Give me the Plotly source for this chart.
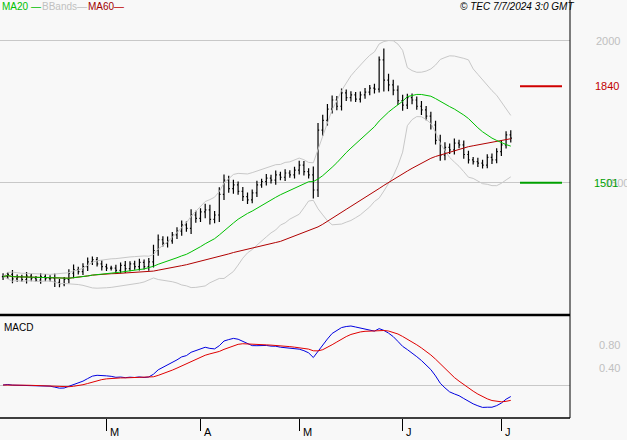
import plotly.graph_objects as go
import pandas as pd
import numpy as np

closes = [1170,1178,1162,1168,1160,1172,1165,1158,1170,1163,1165,1150,
          1145,1160,1182,1195,1188,1205,1222,1230,1215,1205,1200,
          1200,1192,1210,1198,1215,1205,1220,1205,1222,1262,
          1300,1288,1296,1317,1330,1352,1340,1387,1375,1398,1405,
          1372,1387,1460,1510,1480,1493,1470,1452,1440,1465,
          1493,1505,1517,1510,1528,1520,1535,1528,1545,1563,1540,1528,1475,
          1686,1720,1760,1792,1770,1817,1800,1810,1795,1810,1820,1834,1830,1933,
          1862,1845,1827,1790,1774,1800,1792,1770,1757,1735,1704,1650,
          1598,1625,1616,1640,1634,1600,1581,1575,1570,1563,1590,1581,1610,1634,1669,1658]
wicks = [12,8,15,10,9,14,11,7,13,9,10,16,12,9,14,18,10,12,15,11,9,13,10,
         8,12,10,15,9,11,13,10,14,20,18,12,15,10,14,16,12,20,15,13,22,
         18,14,25,20,15,18,12,16,14,12,15,10,14,12,16,11,13,10,12,15,14,12,30,
         25,20,18,16,14,15,12,13,10,12,14,11,15,12,40,
         22,18,16,20,14,15,12,18,14,16,15,20,
         18,14,16,12,15,13,10,14,12,11,14,12,15,13,16,12]
month_labels = ["M", "A", "M", "J", "J"]
month_idx = [22, 42, 63, 85, 106]

c = pd.Series(closes, dtype=float)
o = c.shift(1).fillna(c.iloc[0])
w = pd.Series(wicks, dtype=float)
hi = np.maximum(o, c) + w
lo = np.minimum(o, c) - w
x = list(range(len(c)))

ma20 = c.rolling(20, min_periods=1).mean()
sd20 = c.rolling(20, min_periods=1).std().fillna(0)
ma60 = c.rolling(60, min_periods=1).mean()
ub, lb = ma20 + 2 * sd20, ma20 - 2 * sd20
ema12 = c.ewm(span=12, adjust=False).mean()
ema26 = c.ewm(span=26, adjust=False).mean()
macd = (ema12 - ema26) / ema26 * 100
sig = macd.ewm(span=9, adjust=False).mean()

mtop = float(max(macd.max(), sig.max())) * (385 - 316) / (385 - 326)
unit = mtop / (385 - 316)
mbot = -unit * (418 - 385)

fig = go.Figure()
fig.add_trace(go.Scatter(x=x, y=ub, line=dict(color="#c8c8c8", width=1), xaxis="x", yaxis="y"))
fig.add_trace(go.Scatter(x=x, y=lb, line=dict(color="#c8c8c8", width=1), xaxis="x", yaxis="y"))
fig.add_trace(go.Scatter(x=x, y=ma60, line=dict(color="#b00000", width=1), xaxis="x", yaxis="y"))
fig.add_trace(go.Scatter(x=x, y=ma20, line=dict(color="#00c000", width=1), xaxis="x", yaxis="y"))
fig.add_trace(go.Ohlc(x=x, open=o, high=hi, low=lo, close=c, tickwidth=0.25,
                      increasing=dict(line=dict(color="black", width=1.2)),
                      decreasing=dict(line=dict(color="black", width=1.2)),
                      xaxis="x", yaxis="y"))
fig.add_trace(go.Scatter(x=x, y=macd, line=dict(color="#0000e0", width=1), xaxis="x2", yaxis="y2"))
fig.add_trace(go.Scatter(x=x, y=sig, line=dict(color="#e00000", width=1), xaxis="x2", yaxis="y2"))

xr = [-0.65, 120.6]
dom_x = [0, 570 / 627]
fig.update_layout(
    width=627, height=440, margin=dict(l=0, r=0, t=0, b=0),
    paper_bgcolor="#f8f8f8", plot_bgcolor="#f8f8f8", showlegend=False,
    font=dict(family="Liberation Sans, Arial", size=10, color="black"),
    xaxis=dict(domain=dom_x, range=xr, showticklabels=False, showgrid=False, zeroline=False,
               rangeslider=dict(visible=False), anchor="y", fixedrange=True),
    yaxis=dict(domain=[(440 - 315) / 440, 1], range=[1035, 2144], showticklabels=False,
               tickvals=[1500, 2000], gridcolor="#c8c8c8", gridwidth=1, zeroline=False),
    xaxis2=dict(domain=dom_x, range=xr, anchor="y2", showgrid=False, zeroline=False,
                tickvals=month_idx, ticktext=[""] * 5, ticks="outside", ticklen=12,
                tickcolor="black", showline=False),
    yaxis2=dict(domain=[22 / 440, 124 / 440], range=[mbot, mtop], showticklabels=False,
                tickvals=[0], gridcolor="#c8c8c8", zeroline=False),
)
line = dict(color="black", width=1)
fig.add_shape(type="line", xref="paper", yref="paper", x0=570 / 627, x1=570 / 627, y0=22 / 440, y1=1, line=line)
fig.add_shape(type="line", xref="paper", yref="paper", x0=0, x1=570 / 627, y0=125 / 440, y1=125 / 440, line=dict(color="black", width=2.5))
fig.add_shape(type="line", xref="paper", yref="paper", x0=0, x1=570 / 627, y0=22 / 440, y1=22 / 440, line=dict(color="black", width=1.5))
fig.add_shape(type="line", xref="paper", yref="y", x0=520 / 627, x1=562 / 627, y0=1840, y1=1840, line=dict(color="#d00000", width=2))
fig.add_shape(type="line", xref="paper", yref="y", x0=520 / 627, x1=562 / 627, y0=1501, y1=1501, line=dict(color="#00a000", width=2))

def ann(text, xp, yp, color, xref="paper", yref="paper", xanchor="left", size=10, italic=False):
    fig.add_annotation(text=text, x=xp, y=yp, xref=xref, yref=yref, xanchor=xanchor, yanchor="middle",
                       showarrow=False, font=dict(color=color, size=size, style="italic" if italic else "normal"))

ann("2000", 594 / 627, 2000, "#c0c0c0", yref="y", size=11)
ann("1840", 593 / 627, 1840, "#c00000", yref="y", size=11)
ann("1500", 603 / 627, 1500, "#c0c0c0", yref="y", size=11)
ann("1501", 592 / 627, 1501, "#00a000", yref="y", size=11)
ann("0.80", 597 / 627, (440 - 345) / 440, "#c0c0c0", size=11)
ann("0.40", 597 / 627, (440 - 368) / 440, "#c0c0c0", size=11)
ann("MA20", 0, 434 / 440, "#00c000")
ann("—", 29 / 627, 434 / 440, "#00c000")
ann("BBands—", 40 / 627, 434 / 440, "#c0c0c0")
ann("MA60", 86 / 627, 434 / 440, "#a00000")
ann("—", 112 / 627, 434 / 440, "#c00000")
ann("© TEC 7/7/2024 3:0 GMT", 576 / 627, 434 / 440, "black", xanchor="right", italic=True)
ann("MACD", 2 / 627, (440 - 327) / 440, "black")
for lab, i in zip(month_labels, month_idx):
    fig.add_annotation(text=lab, x=i + 0.3, y=(440 - 432) / 440, xref="x2", yref="paper",
                       xanchor="left", yanchor="middle", showarrow=False, font=dict(size=11, color="black"))

fig.write_html("out.html", config={"displayModeBar": False},
               post_script="document.body.style.margin='0';")
